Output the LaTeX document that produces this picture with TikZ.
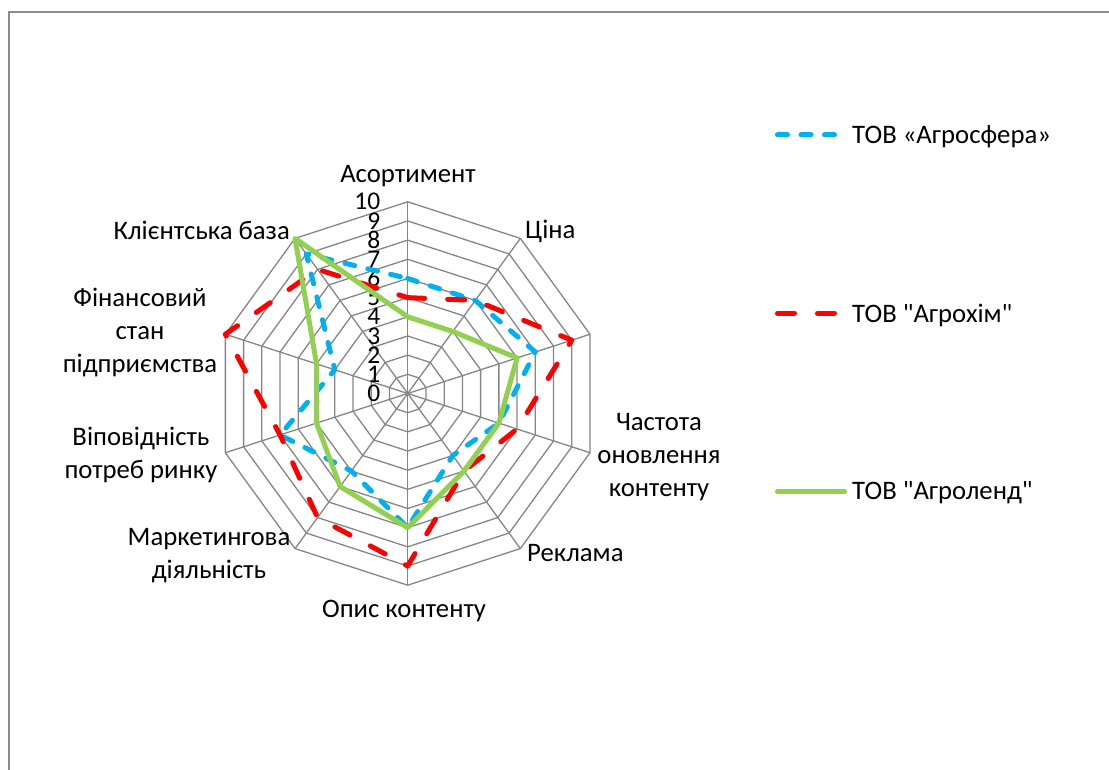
\documentclass[tikz,border=0pt]{standalone}
\usepackage{fontspec}
\setmainfont{Carlito}[Ligatures=TeXOff]
\definecolor{sblue}{HTML}{00B0F0}
\definecolor{sred}{HTML}{FF0000}
\definecolor{sgreen}{HTML}{92D050}
\definecolor{gridgray}{HTML}{868686}
\definecolor{bordergray}{HTML}{8C8C8C}
\begin{document}
\begin{tikzpicture}[x=1pt,y=1pt,
  gridline/.style={draw=gridgray, line width=1.3pt},
  serA/.style={draw=sblue, line width=5pt, dash pattern=on 10pt off 13.5pt, line cap=round, line join=round},
  serB/.style={draw=sred, line width=5pt, dash pattern=on 17pt off 23pt, line cap=round, line join=round},
  serC/.style={draw=sgreen, line width=5pt, line join=round, line cap=round},
  lbl/.style={font=\fontsize{26.7}{33}\selectfont, inner sep=0pt, align=center},
  num/.style={font=\fontsize{25.5}{25.5}\selectfont, inner sep=0pt, anchor=east},
]
\useasboundingbox (0,0) rectangle (1109,770);
\fill[white] (0,0) rectangle (1109,770);
\draw[line width=2pt, draw=bordergray] (9,0) -- (9,758) -- (1109,758);

\begin{scope}[shift={(407.7,376.5)}, x=19.17pt, y=19.17pt]
  \foreach \k in {1,...,10} {
    \draw[gridline] (90:\k) \foreach \i in {1,...,9} { -- (90-36*\i:\k) } -- cycle;
  }
  \foreach \i in {0,...,9} { \draw[gridline] (0,0) -- (90-36*\i:10); }
\end{scope}

\foreach \k in {0,...,10} {
  \node[num] (n\k) at (380.5, 376.5+19.17*\k) {\k};
}

\begin{scope}[shift={(407.7,376.5)}, x=19.17pt, y=19.17pt]
  \draw[serA] (90:6) -- (54:6) -- (18:7) -- (-18:5) -- (-54:4) -- (-90:7) -- (-126:5) -- (-162:7) -- (162:4) -- (126:9) -- cycle;
  \draw[serB] (90:5) -- (54:6) -- (18:9) -- (-18:6) -- (-54:5) -- (-90:9) -- (-126:8) -- (-162:7) -- (162:10) -- (126:8) -- cycle;
  \draw[serC] (90:4) -- (54:4) -- (18:6) -- (-18:5) -- (-54:5) -- (-90:7) -- (-126:6) -- (-162:5) -- (162:5) -- (126:10) -- cycle;
\end{scope}

\node[lbl, anchor=base] (l0) at (408, 587) {Асортимент};
\node[lbl, anchor=base west] (l1) at (525, 531) {Ціна};
\node[lbl, anchor=base] (l3) at (659, 273) {Частота\\оновлення\\контенту};
\node[lbl, anchor=base west] (l4) at (527, 208) {Реклама};
\node[lbl, anchor=base] (l5) at (404, 152) {Опис контенту};
\node[lbl, anchor=base] (l6) at (209, 191) {Маркетингова\\діяльність};
\node[lbl, anchor=base] (l7) at (141, 291) {Віповідність\\потреб ринку};
\node[lbl, anchor=base] (l8) at (140, 397.5) {Фінансовий\\стан\\підприємства};
\node[lbl, anchor=base east] (l9) at (290, 530.7) {Клієнтська база};

\coordinate (ga1) at (777.5,635);
\coordinate (ga2) at (834.5,635);
\coordinate (gb1) at (777.5,456.7);
\coordinate (gb2) at (834.5,456.7);
\coordinate (gc1) at (777.5,278.3);
\coordinate (gc2) at (844.5,278.3);
\draw[serA] (ga1) -- (ga2);
\draw[serB] (gb1) -- (gb2);
\draw[serC] (gc1) -- (gc2);
\node[lbl, anchor=base west] (ta) at (852, 626.7) {ТОВ «Агросфера»};
\node[lbl, anchor=base west] (tb) at (852, 447.7) {ТОВ "Агрохім"};
\node[lbl, anchor=base west] (tc) at (852, 270) {ТОВ "Агроленд"};
\end{tikzpicture}
\end{document}
